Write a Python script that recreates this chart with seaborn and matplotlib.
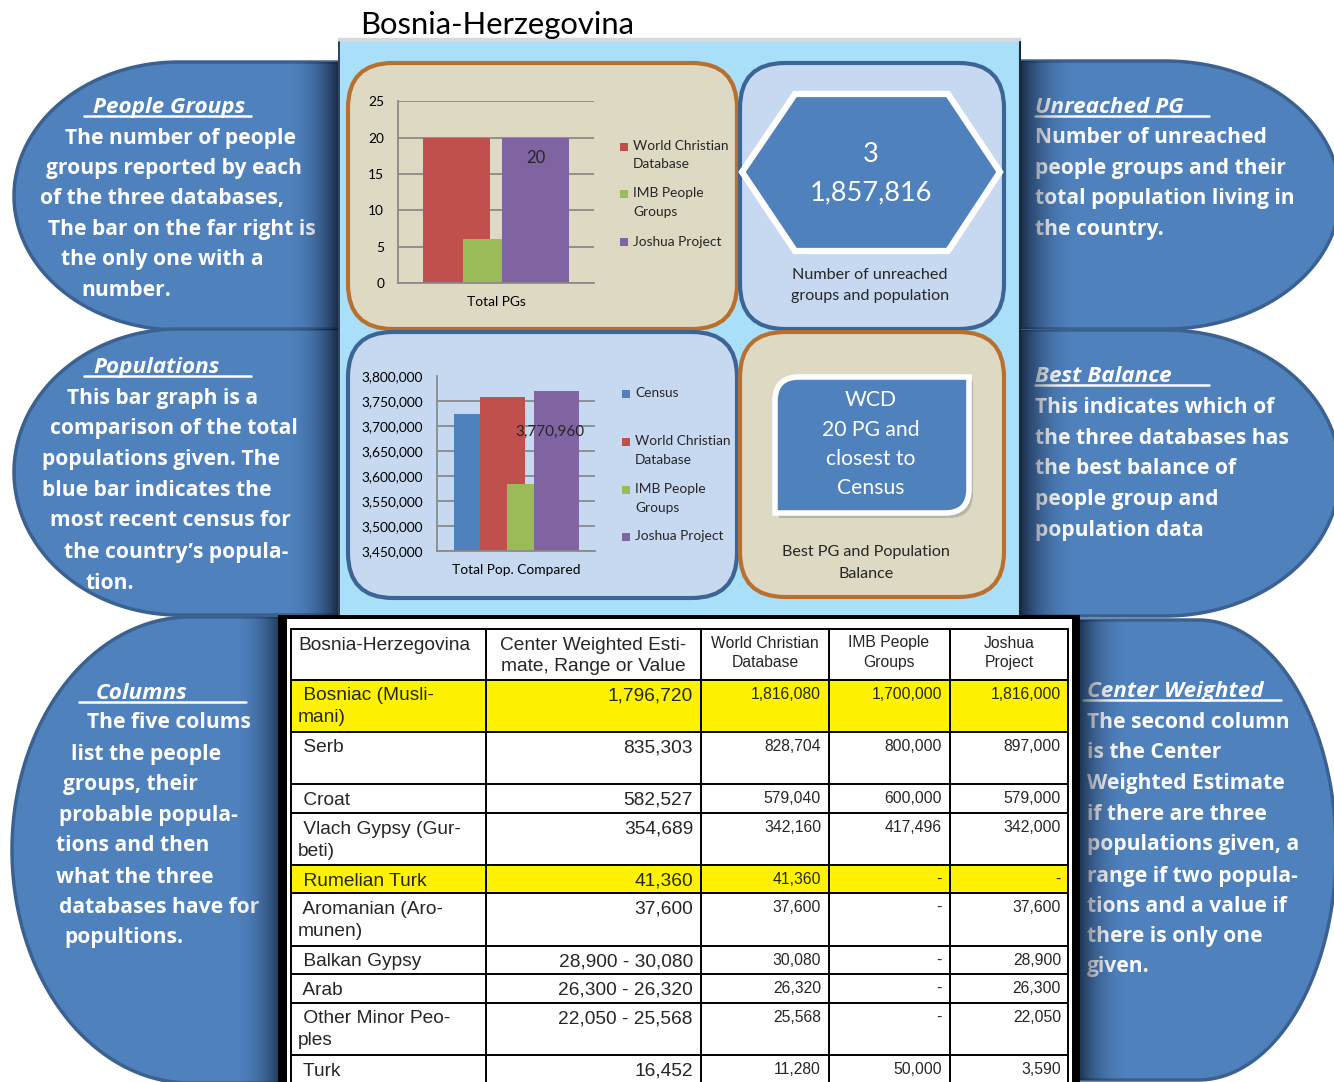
import numpy as np
import matplotlib
matplotlib.use("Agg")
import matplotlib.pyplot as plt
import seaborn as sns
from matplotlib.patches import Rectangle, FancyBboxPatch, Polygon, PathPatch
from matplotlib.path import Path
from matplotlib.ticker import FuncFormatter


# Bosnia-Herzegovina people group comparison sheet

W, H = 1334, 1082

title = "Bosnia-Herzegovina"

pg_series = ["World Christian\nDatabase", "IMB People\nGroups", "Joshua Project"]
pg_counts = [20, 6, 20]
pg_colors = ["#C0504D", "#9BBB59", "#8064A2"]

pop_series = ["Census", "World Christian\nDatabase", "IMB People\nGroups", "Joshua Project"]
pop_totals = [3725000, 3759000, 3585000, 3770960]
pop_colors = ["#4F81BD", "#C0504D", "#9BBB59", "#8064A2"]

unreached_pg = 3
unreached_pop = 1857816
best_balance = ["WCD", "20 PG and", "closest to", "Census"]

tbl_header = ["Bosnia-Herzegovina", "Center Weighted Esti-\nmate, Range or Value",
              "World Christian\nDatabase", "IMB People\nGroups", "Joshua\nProject"]
tbl_groups = [" Bosniac (Musli-\nmani)", " Serb", " Croat", " Vlach Gypsy (Gur-\nbeti)",
              " Rumelian Turk", " Aromanian (Aro-\nmunen)", " Balkan Gypsy", " Arab",
              " Other Minor Peo-\nples", " Turk"]
tbl_center = ["1,796,720", "835,303", "582,527", "354,689", "41,360", "37,600",
              "28,900 - 30,080", "26,300 - 26,320", "22,050 - 25,568", "16,452"]
tbl_wcd = [1816080, 828704, 579040, 342160, 41360, 37600, 30080, 26320, 25568, 11280]
tbl_imb = [1700000, 800000, 600000, 417496, None, None, None, None, None, 50000]
tbl_jp = [1816000, 897000, 579000, 342000, None, 37600, 28900, 26300, 22050, 3590]
tbl_yellow = [True, False, False, False, True, False, False, False, False, False]

left_notes = [
    ("People Groups", 93, 106, 84, 251,
     [(65, 137, "The number of people"), (46, 167, "groups reported by each"),
      (40, 197, "of the three databases,"), (48, 228, "The bar on the far right is"),
      (61, 258, "the only one with a"), (81, 289, "number.")]),
    ("Populations", 93, 366, 84, 251,
     [(67, 397, "This bar graph is a"), (50, 427, "comparison of the total"),
      (42, 458, "populations given. The"), (42, 489, "blue bar indicates the"),
      (50, 519, "most recent census for"), (64, 551, "the country\u2019s popula-"),
      (86, 582, "tion.")]),
    ("Columns", 96, 692, 79, 246,
     [(87, 721, "The five colums"), (71, 753, "list the people"), (63, 783, "groups, their"),
      (59, 814, "probable popula-"), (56, 844, "tions and then"), (56, 876, "what the three"),
      (59, 906, "databases have for"), (64, 936, "popultions.")]),
]
right_notes = [
    ("Unreached PG", 1035, 106, 1035, 1209,
     [(1035, 136, "Number of unreached"), (1035, 167, "people groups and their"),
      (1035, 197, "total population living in"), (1035, 228, "the country.")]),
    ("Best Balance", 1035, 375, 1035, 1209,
     [(1035, 406, "This indicates which of"), (1035, 437, "the three databases has"),
      (1035, 467, "the best balance of"), (1035, 498, "people group and"),
      (1035, 529, "population data")]),
    ("Center Weighted", 1087, 690, 1083, 1281,
     [(1087, 721, "The second column"), (1087, 751, "is the Center"),
      (1087, 782, "Weighted Estimate"), (1087, 813, "if there are three"),
      (1087, 843, "populations given, a"), (1087, 875, "range if two popula-"),
      (1087, 905, "tions and a value if"), (1087, 935, "there is only one"),
      (1087, 965, "given.")]),
]

sns.set_style("white")
plt.rcParams['font.family'] = ['Lato', 'DejaVu Sans']

SHAPE_BLUE = "#4F81BD"
SHAPE_EDGE = "#3A6190"
TAN = "#DDD9C3"
ORANGE = "#B9702E"
LIGHT = "#C6D9F1"
PANEL = "#A9DFF9"
NOTE_FONT = ['Open Sans', 'DejaVu Sans']

fig = plt.figure(figsize=(W / 100, H / 100), dpi=100)
bg = fig.add_axes([0, 0, 1, 1])
bg.set_axis_off()


def px_axes(x0, y0, x1, y1):
    return fig.add_axes([x0 / W, 1 - y1 / H, (x1 - x0) / W, (y1 - y0) / H])


def stadium(cx, cy, a, b, x_flat, side):
    if side == "left":
        t = np.linspace(np.pi / 2, 3 * np.pi / 2, 120)
    else:
        t = np.linspace(np.pi / 2, -np.pi / 2, 120)
    pts = list(zip(cx + a * np.cos(t), cy - b * np.sin(t)))
    pts += [(x_flat, cy + b), (x_flat, cy - b)]
    p = Polygon(pts, closed=True, facecolor=SHAPE_BLUE, edgecolor=SHAPE_EDGE, lw=2.5, zorder=1)
    bg.add_patch(p)
    return p


def shade(patch, x0, x1, y0, y1, dark_right, alpha=0.85):
    ramp = np.linspace(0, 1, 200) ** 2.2
    if not dark_right:
        ramp = ramp[::-1]
    rgba = np.zeros((1, 200, 4))
    rgba[0, :, 0] = 0.04
    rgba[0, :, 1] = 0.08
    rgba[0, :, 2] = 0.16
    rgba[0, :, 3] = ramp * alpha
    im = bg.imshow(rgba, extent=(x0, x1, y1, y0), aspect='auto', zorder=3,
                   interpolation='bilinear')
    im.set_clip_path(patch)


def notes(items):
    for head, hx, hy, u0, u1, lines in items:
        bg.text(hx, hy + 7, head, color="white", fontsize=16.2, fontweight="bold",
                fontstyle="italic", family=NOTE_FONT, ha="left", va="baseline", zorder=2)
        bg.plot([u0, u1], [hy + 10, hy + 10], color="white", lw=1.8, zorder=2)
        for x, y, s in lines:
            bg.text(x, y + 7, s, color="white", fontsize=15.1, fontweight="bold",
                    family=NOTE_FONT, ha="left", va="baseline", zorder=2)


# side call-out shapes
l1 = stadium(179, 196, 165, 134, 340, "left")
l2 = stadium(179, 472, 165, 143, 340, "left")
l3 = stadium(190, 850, 178, 233, 290, "left")
r1 = stadium(1165, 195, 175, 134, 1015, "right")
r2 = stadium(1165, 473, 175, 143, 1015, "right")
r3 = stadium(1198, 850, 138, 230, 1070, "right")
notes(left_notes)
notes(right_notes)
shade(l1, 285, 340, 60, 332, True)
shade(l2, 285, 340, 328, 618, True)
shade(l3, 232, 285, 615, 1085, True)
shade(r1, 1018, 1080, 60, 332, False)
shade(r2, 1018, 1080, 328, 618, False)
shade(r3, 1075, 1130, 615, 1085, False)

# title and central panel
bg.text(360, 25, title, fontsize=22.3, ha="left", va="center", color="black", zorder=8)
bg.add_patch(Rectangle((338, 38), 682, 4, color="#D8D8D8", zorder=4))
bg.add_patch(Rectangle((338, 42), 682, 576, facecolor=PANEL, edgecolor="none", zorder=4))
bg.plot([338.5, 338.5], [42, 618], color="#1B2838", lw=1.2, zorder=4)
bg.plot([1019.5, 1019.5], [42, 618], color="#1B2838", lw=1.5, zorder=4)

for (x0, y0, x1, y1, fc, ec) in [(348, 63, 737, 329, TAN, ORANGE),
                                 (740, 63, 1004, 329, LIGHT, "#3C6494"),
                                 (348, 332, 737, 598, LIGHT, "#3C6494"),
                                 (740, 332, 1004, 597, TAN, ORANGE)]:
    bg.add_patch(FancyBboxPatch((x0, y0), x1 - x0, y1 - y0,
                                boxstyle="round,pad=0,rounding_size=45",
                                facecolor=fc, edgecolor=ec, lw=3, zorder=5))

# unreached hexagon
hexa = [(742, 172), (795, 94), (948, 94), (1000, 172), (948, 251), (795, 251)]
bg.add_patch(Polygon(hexa, closed=True, facecolor=SHAPE_BLUE, edgecolor="white",
                     lw=4.5, zorder=6, joinstyle="miter"))
bg.text(871, 155, f"{unreached_pg}", color="white", fontsize=19.5, ha="center",
        va="center", zorder=7)
bg.text(871, 193, f"{unreached_pop:,}", color="white", fontsize=19.5, ha="center",
        va="center", zorder=7)
bg.text(870, 275, "Number of unreached", fontsize=11.6, ha="center", va="center", zorder=7)
bg.text(870, 296, "groups and population", fontsize=11.6, ha="center", va="center", zorder=7)


# best balance box (rounded on two diagonal corners)
def diag_box(x0, y0, x1, y1, r, **kw):
    verts = [(x0 + r, y0), (x1, y0), (x1, y1 - r), (x1, y1), (x1 - r, y1), (x0, y1),
             (x0, y0 + r), (x0, y0), (x0 + r, y0), (x0 + r, y0)]
    codes = [Path.MOVETO, Path.LINETO, Path.LINETO, Path.CURVE3, Path.CURVE3,
             Path.LINETO, Path.LINETO, Path.CURVE3, Path.CURVE3, Path.CLOSEPOLY]
    return PathPatch(Path(verts, codes), **kw)


bg.add_patch(diag_box(779, 381, 973, 518, 24, facecolor="#8C8C8C", edgecolor="none",
                      alpha=0.45, zorder=6))
bg.add_patch(diag_box(775, 377, 969, 513, 24, facecolor=SHAPE_BLUE, edgecolor="white",
                      lw=4, zorder=6))
for i, s in enumerate(best_balance):
    bg.text(871, 400 + i * 29.5, s, color="white", fontsize=15.2, ha="center",
            va="center", zorder=7)
bg.text(866, 552, "Best PG and Population", fontsize=11.6, ha="center", va="center", zorder=7)
bg.text(866, 574, "Balance", fontsize=11.6, ha="center", va="center", zorder=7)


# chart legends
def legend(x, y0, gaps, names, colors):
    y = y0
    for name, c, g in zip(names, colors, gaps):
        bg.add_patch(Rectangle((x - 13, y - 3.5), 8, 8, facecolor=c, edgecolor="none", zorder=7))
        for k, line in enumerate(name.split("\n")):
            bg.text(x, y + k * 18.5, line, fontsize=9.9, ha="left", va="center", zorder=7)
        y += g


legend(633, 146, [47, 48.5, 0], pg_series, pg_colors)
legend(635, 393, [48, 48, 47, 0], pop_series, pop_colors)

# table
bg.add_patch(Rectangle((278, 615), 802, 480, facecolor="black", edgecolor="none", zorder=4))
bg.add_patch(Rectangle((287, 619), 785, 470, facecolor="white", edgecolor="none", zorder=4))

col_x = [291, 486, 701, 829, 950, 1068]
row_h = [51, 51.7, 52.6, 29, 51.7, 28.3, 52.4, 28.6, 28.4, 52.3, 52]
row_top = np.concatenate([[629], 629 + np.cumsum(row_h)])

for i, yel in enumerate(tbl_yellow):
    if yel:
        bg.add_patch(Rectangle((col_x[0], row_top[i + 1]), col_x[-1] - col_x[0], row_h[i + 1],
                               facecolor="#FFF200", edgecolor="none", zorder=4.5))
for y in row_top[:-1]:
    bg.plot([col_x[0], col_x[-1]], [y, y], color="black", lw=1.4, zorder=5)
for x in col_x:
    bg.plot([x, x], [row_top[0], H + 5], color="black", lw=1.4, zorder=5)

tf = ['Liberation Sans', 'DejaVu Sans']
big, small = 13.8, 11.3
bg.text(298, row_top[0] + 7.5, tbl_header[0], family=tf, fontsize=big, ha="left", va="top", zorder=6)
bg.text(593, row_top[0] + 7.5, tbl_header[1], family=tf, fontsize=big, ha="center", va="top",
        zorder=6, linespacing=1.38)
for j, cx in zip(range(2, 5), [765, 889, 1009]):
    bg.text(cx, row_top[0] + 6.5, tbl_header[j], family=tf, fontsize=small, ha="center",
            va="top", zorder=6, linespacing=1.34)


def fmt(v):
    return "-" if v is None else f"{v:,}"


for i in range(len(tbl_groups)):
    y = row_top[i + 1] + 7.5
    bg.text(298, y, tbl_groups[i], family=tf, fontsize=big, ha="left", va="top", zorder=6,
            linespacing=1.38)
    bg.text(693, y, tbl_center[i], family=tf, fontsize=big, ha="right", va="top", zorder=6)
    for vals, rx in [(tbl_wcd, 821), (tbl_imb, 942), (tbl_jp, 1061)]:
        bg.text(rx, y - 0.5, fmt(vals[i]), family=tf, fontsize=small, ha="right", va="top",
                zorder=6)

bg.set_xlim(0, W)
bg.set_ylim(H, 0)


# bar charts (Excel style overlapping bars)
def bar_chart(ax, pos, widths, values, colors):
    for p, w, v, c in zip(pos, widths, values, colors):
        sns.barplot(x=[p], y=[v], native_scale=True, width=w, color=c, saturation=1,
                    errorbar=None, orient="x", linewidth=0, ax=ax)
    ax.set_xlim(0, 1)
    ax.set_facecolor("none")
    ax.grid(axis="y", color="#8A8A8A", lw=1.3)
    ax.set_axisbelow(True)
    for s in ["top", "right"]:
        ax.spines[s].set_visible(False)
    for s in ["left", "bottom"]:
        ax.spines[s].set_color("#8A8A8A")
        ax.spines[s].set_linewidth(1.3)
    ax.tick_params(length=0, labelsize=9.9, colors="black")
    ax.set_xlabel("")
    ax.set_ylabel("")


ax1 = px_axes(398, 101.5, 594, 283)
bar_chart(ax1, [0.298, 0.431, 0.702], [0.342, 0.199, 0.342], pg_counts, pg_colors)
ax1.set_ylim(0, 25)
ax1.set_yticks(np.arange(0, 26, 5))
ax1.set_xticks([0.5], ["Total PGs"])
ax1.tick_params(axis="y", pad=10)
ax1.tick_params(axis="x", pad=9)
ax1.annotate(f"{pg_counts[2]}", xy=(0.702, pg_counts[2]), xytext=(0, -14.5),
             textcoords="offset points", ha="center", va="center", fontsize=12)

ax2 = px_axes(437, 376.5, 595, 551)
bar_chart(ax2, [0.190, 0.415, 0.528, 0.756], [0.165, 0.285, 0.171, 0.285], pop_totals, pop_colors)
ax2.set_ylim(3450000, 3800000)
ax2.set_yticks(np.arange(3450000, 3800001, 50000))
ax2.yaxis.set_major_formatter(FuncFormatter(lambda v, p: f"{int(v):,}"))
ax2.set_xticks([0.503], ["Total Pop. Compared"])
ax2.tick_params(axis="y", pad=10)
ax2.tick_params(axis="x", pad=9)
ax2.annotate(f"{pop_totals[3]:,}", xy=(0.756, pop_totals[3]), xytext=(-5, -29.5),
             textcoords="offset points", ha="center", va="center", fontsize=11)

fig.savefig("out.png", dpi=100)
